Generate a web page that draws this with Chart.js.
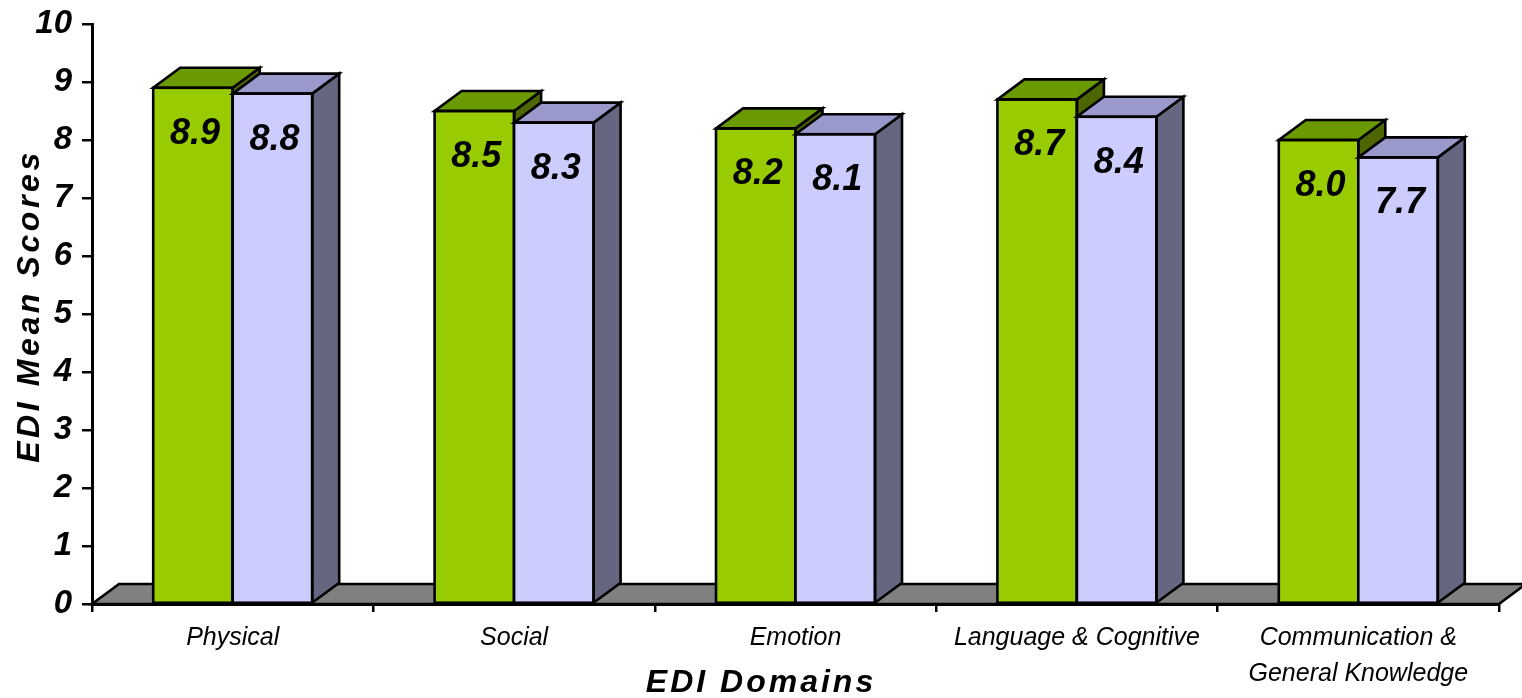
<!DOCTYPE html>
<html>
<head>
<meta charset="utf-8">
<script src="https://cdn.jsdelivr.net/npm/chart.js@4/dist/chart.umd.min.js"></script>
<style>
  html, body { margin: 0; padding: 0; background: #fff; }
  #ediChart { display: block; }
</style>
</head>
<body>
<canvas id="ediChart" width="1522" height="698"></canvas>
<script>
// Dominios EDI y puntuaciones medias por grupo
const domains = ['Physical', 'Social', 'Emotion', 'Language & Cognitive', ['Communication &', 'General Knowledge']];
const groupA = [8.9, 8.5, 8.2, 8.7, 8.0];
const groupB = [8.8, 8.3, 8.1, 8.4, 7.7];
const yTicks = [0, 1, 2, 3, 4, 5, 6, 7, 8, 9, 10];

const FONT = '"Liberation Sans", Arial, sans-serif';
const DEPTH_X = 27;
const DEPTH_Y = -20;
const EDGE = 2.6;

// colores de cara frontal, superior y lateral de cada serie
const faces = [
    { front: '#99cc00', top: '#6b9900', side: '#4d6600' },
    { front: '#ccccff', top: '#9999cc', side: '#666680' }
];

function poly(ctx, pts, fill) {
    ctx.beginPath();
    ctx.moveTo(pts[0][0], pts[0][1]);
    for (let i = 1; i < pts.length; i++) ctx.lineTo(pts[i][0], pts[i][1]);
    ctx.closePath();
    ctx.fillStyle = fill;
    ctx.fill();
    ctx.stroke();
}

// suelo gris bajo las barras
const floorPlugin = {
    id: 'floor',
    beforeDatasetsDraw(chart) {
        const ctx = chart.ctx;
        const a = chart.chartArea;
        ctx.save();
        ctx.lineWidth = EDGE;
        ctx.strokeStyle = '#000';
        ctx.lineJoin = 'miter';
        poly(ctx, [
            [a.left, a.bottom], [a.right, a.bottom],
            [a.right + DEPTH_X, a.bottom + DEPTH_Y], [a.left + DEPTH_X, a.bottom + DEPTH_Y]
        ], '#808080');
        ctx.restore();
    }
};

// cajas 3D: se pintan serie por serie, de izquierda a derecha
const boxPlugin = {
    id: 'box3d',
    afterDatasetsDraw(chart) {
        const ctx = chart.ctx;
        ctx.save();
        ctx.lineWidth = EDGE;
        ctx.strokeStyle = '#000';
        ctx.lineJoin = 'miter';
        const n = chart.data.labels.length;
        for (let j = 0; j < n; j++) {
            chart.data.datasets.forEach((ds, i) => {
                const f = faces[i];
                const bar = chart.getDatasetMeta(i).data[j];
                const l = bar.x - bar.width / 2;
                const r = bar.x + bar.width / 2;
                const t = bar.y;
                const b = bar.base;
                ctx.fillStyle = f.front;
                ctx.fillRect(l, t, r - l, b - t);
                poly(ctx, [[r, t], [r + DEPTH_X, t + DEPTH_Y], [r + DEPTH_X, b + DEPTH_Y], [r, b]], f.side);
                poly(ctx, [[l, t], [r, t], [r + DEPTH_X, t + DEPTH_Y], [l + DEPTH_X, t + DEPTH_Y]], f.top);
                ctx.strokeRect(l, t, r - l, b - t);
            });
        }

        // etiquetas de valor sobre la cara frontal
        ctx.font = 'italic bold 36px ' + FONT;
        ctx.fillStyle = '#000';
        ctx.textAlign = 'center';
        ctx.textBaseline = 'middle';
        chart.data.datasets.forEach((ds, i) => {
            chart.getDatasetMeta(i).data.forEach((bar, j) => {
                ctx.fillText(ds.data[j].toFixed(1), bar.x + 2, bar.y + 46);
            });
        });
        ctx.restore();
    }
};

// títulos de los ejes con espaciado entre letras
const titlePlugin = {
    id: 'axisTitles',
    afterDraw(chart) {
        const ctx = chart.ctx;
        const a = chart.chartArea;
        ctx.save();
        ctx.font = 'italic bold 32px ' + FONT;
        ctx.fillStyle = '#000';
        ctx.letterSpacing = '3px';
        ctx.textAlign = 'center';
        ctx.textBaseline = 'middle';
        ctx.fillText('EDI Domains', chart.width / 2, chart.height - 15);
        ctx.letterSpacing = '3.6px';
        ctx.translate(30, (a.top + a.bottom) / 2 - 8);
        ctx.rotate(-Math.PI / 2);
        ctx.fillText('EDI Mean Scores', 0, 0);
        ctx.restore();
    }
};

const config = {
    type: 'bar',
    data: {
        labels: domains,
        datasets: [
            {
                label: 'Group A',
                data: groupA,
                backgroundColor: faces[0].front,
                borderWidth: 0,
                categoryPercentage: 0.565,
                barPercentage: 1.0
            },
            {
                label: 'Group B',
                data: groupB,
                backgroundColor: faces[1].front,
                borderWidth: 0,
                categoryPercentage: 0.565,
                barPercentage: 1.0
            }
        ]
    },
    options: {
        responsive: false,
        animation: false,
        layout: { padding: { top: 24, right: 23, left: 0, bottom: 0 } },
        plugins: {
            legend: { display: false },
            tooltip: { enabled: false }
        },
        scales: {
            y: {
                min: 0,
                max: 10,
                afterBuildTicks: scale => { scale.ticks = yTicks.map(v => ({ value: v })); },
                afterFit: scale => {
                    scale.width = 92;
                    scale.paddingTop = 0;
                    scale.paddingBottom = 0;
                },
                ticks: {
                    color: '#000',
                    padding: 10,
                    font: { family: FONT, size: 33, style: 'italic', weight: 'bold' }
                },
                grid: { drawOnChartArea: false, tickLength: 10, color: '#000', lineWidth: 2.5 },
                border: { color: '#000', width: 3 }
            },
            x: {
                afterFit: scale => { scale.height = 94; },
                ticks: {
                    color: '#000',
                    padding: 8,
                    font: { family: FONT, size: 25, style: 'italic', lineHeight: 1.44 }
                },
                grid: { offset: true, drawOnChartArea: false, tickLength: 8, color: '#000', lineWidth: 2.5 },
                border: { color: '#000', width: 3 }
            }
        }
    },
    plugins: [floorPlugin, boxPlugin, titlePlugin]
};

new Chart(document.getElementById('ediChart'), config);
</script>
</body>
</html>
